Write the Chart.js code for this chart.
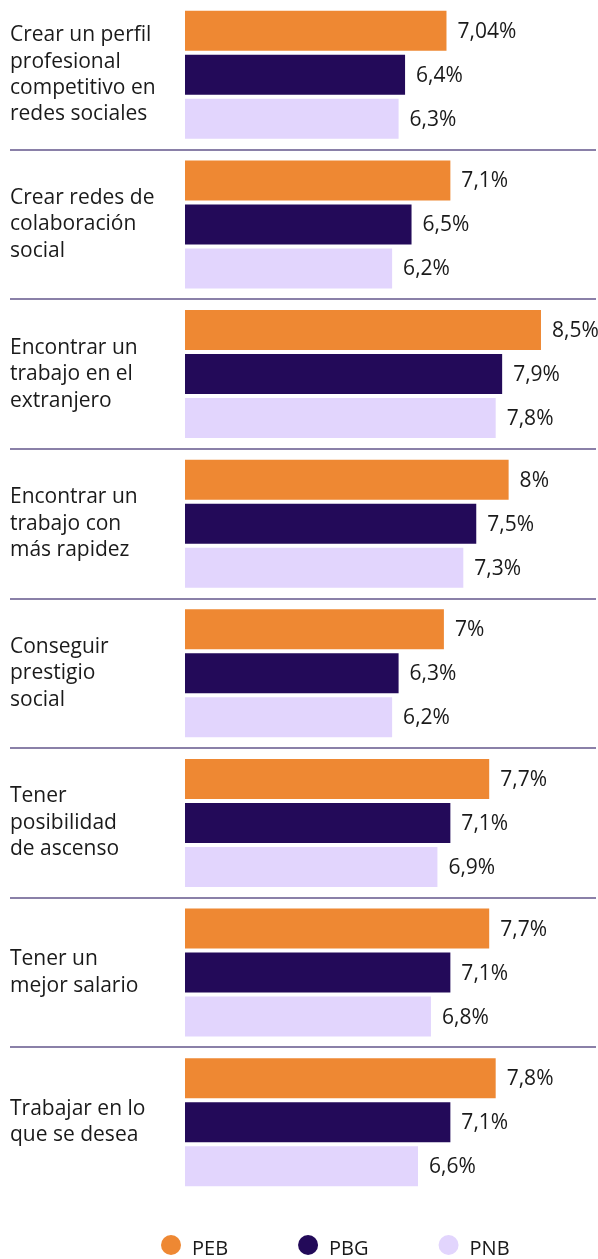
<!DOCTYPE html>
<html lang="es">
<head>
<meta charset="utf-8">
<title>Motivaciones</title>
<script src="https://cdn.jsdelivr.net/npm/chart.js@4.4.1/dist/chart.umd.min.js"></script>
<style>
  html, body { margin: 0; padding: 0; background: #ffffff; }
  #wrap { position: relative; width: 598px; height: 1259px; }
</style>
</head>
<body>
<div id="wrap"><canvas id="motivChart"></canvas></div>
<script>
// categories (multi-line labels) and series values (%)
const categories = [
    ["Crear un perfil", "profesional", "competitivo en", "redes sociales"],
    ["Crear redes de", "colaboración", "social"],
    ["Encontrar un", "trabajo en el", "extranjero"],
    ["Encontrar un", "trabajo con", "más rapidez"],
    ["Conseguir", "prestigio", "social"],
    ["Tener", "posibilidad", "de ascenso"],
    ["Tener un", "mejor salario"],
    ["Trabajar en lo", "que se desea"]
];
const seriesNames = ["PEB", "PBG", "PNB"];
const pebValues = [7.04, 7.1, 8.5, 8, 7, 7.7, 7.7, 7.8];
const pbgValues = [6.4, 6.5, 7.9, 7.5, 6.3, 7.1, 7.1, 7.1];
const pnbValues = [6.3, 6.2, 7.8, 7.3, 6.2, 6.9, 6.8, 6.6];

const seriesColors = ['#ee8833', '#230a59', '#e2d5fd'];
const FONT = '"Open Sans", sans-serif';
const TEXT_COLOR = '#1a1a1a';
const SEP_COLOR = '#8a80a8';

const fmt = v => String(v).replace('.', ',') + '%';

// value labels at the end of each bar
const valueLabels = {
    id: 'valueLabels',
    afterDatasetsDraw(chart) {
        const ctx = chart.ctx;
        ctx.save();
        ctx.font = '21px ' + FONT;
        ctx.fillStyle = TEXT_COLOR;
        ctx.textAlign = 'left';
        ctx.textBaseline = 'middle';
        chart.data.datasets.forEach((ds, i) => {
            chart.getDatasetMeta(i).data.forEach((bar, j) => {
                ctx.fillText(fmt(ds.data[j]), bar.x + 11, bar.y + 1);
            });
        });
        ctx.restore();
    }
};

// legend with round markers under the plot
const dotLegend = {
    id: 'dotLegend',
    afterDraw(chart) {
        const ctx = chart.ctx;
        const y = chart.chartArea.bottom + 48;
        let x = 161;
        ctx.save();
        ctx.font = '20px ' + FONT;
        ctx.textBaseline = 'middle';
        chart.data.datasets.forEach(ds => {
            ctx.fillStyle = ds.backgroundColor;
            ctx.beginPath();
            ctx.arc(x + 10, y, 10, 0, Math.PI * 2);
            ctx.fill();
            ctx.fillStyle = TEXT_COLOR;
            ctx.fillText(ds.label, x + 31, y + 4);
            x += 31 + ctx.measureText(ds.label).width + 70;
        });
        ctx.restore();
    }
};

const datasets = [pebValues, pbgValues, pnbValues].map((vals, i) => ({
    label: seriesNames[i],
    data: vals,
    backgroundColor: seriesColors[i],
    borderWidth: 0,
    categoryPercentage: 0.882,
    barPercentage: 0.909
}));

new Chart(document.getElementById('motivChart'), {
    type: 'bar',
    data: { labels: categories, datasets: datasets },
    options: {
        indexAxis: 'y',
        responsive: true,
        maintainAspectRatio: false,
        animation: false,
        layout: { padding: { left: 10, right: 2, top: 0, bottom: 62 } },
        plugins: {
            legend: { display: false },
            tooltip: { enabled: false }
        },
        scales: {
            x: { display: false, min: 3, max: 9.35 },
            y: {
                border: { display: false },
                afterFit: scale => {
                    scale.width = 175;
                    scale.paddingTop = 0;
                    scale.paddingBottom = 0;
                },
                grid: {
                    offset: true,
                    lineWidth: 2,
                    tickLength: 175,
                    color: c => (c.type === 'tick' && c.index > 0) ? SEP_COLOR : 'transparent'
                },
                ticks: {
                    crossAlign: 'far',
                    color: TEXT_COLOR,
                    font: { family: FONT, size: 21, lineHeight: 1.26 }
                }
            }
        }
    },
    plugins: [valueLabels, dotLegend]
});
</script>
</body>
</html>
